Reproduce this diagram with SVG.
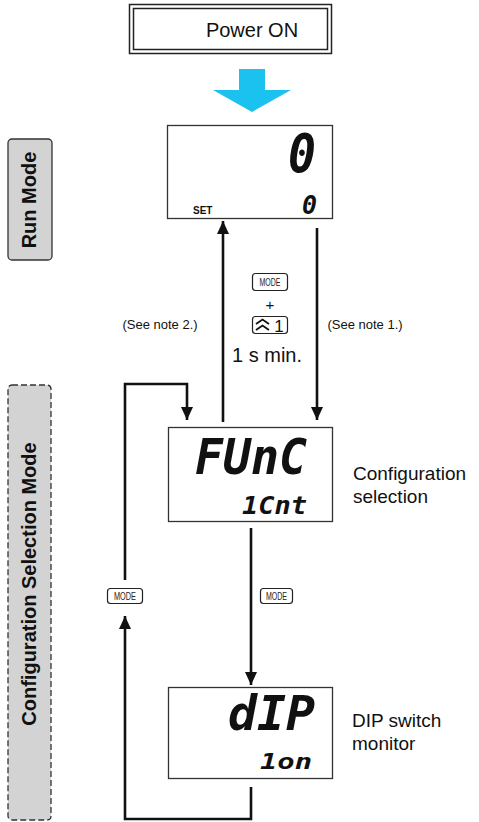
<svg xmlns="http://www.w3.org/2000/svg" width="479" height="822" viewBox="0 0 479 822">
<defs>
<style>
.lbl{font-family:"Liberation Sans",Arial,sans-serif;fill:#111}
.mode{font-family:"Liberation Sans",Arial,sans-serif;font-weight:bold;font-size:20px;fill:#111}
.disp{fill:#fff;stroke:#333;stroke-width:1.3}
.seg{font-family:"DejaVu Sans Mono",monospace;font-weight:bold;font-style:italic;fill:#111}
.btn{fill:#fff;stroke:#222;stroke-width:1.2}
.btxt{font-family:"Liberation Sans",Arial,sans-serif;font-size:10px;fill:#222}
.conn{fill:none;stroke:#111;stroke-width:2.6}
</style>
<marker id="ah" markerUnits="userSpaceOnUse" markerWidth="13" markerHeight="13" refX="13" refY="6" orient="auto">
<path d="M0,0 L13,6 L0,12 z" fill="#111"/>
</marker>
</defs>
<rect width="479" height="822" fill="#fff"/>

<g id="run-mode-label">
<rect x="8" y="139" width="44" height="121" rx="4" fill="#d3d3d3" stroke="#333" stroke-width="1.3"/>
<text class="mode" transform="translate(36,200) rotate(-90)" text-anchor="middle">Run Mode</text>
</g>

<g id="config-mode-label">
<rect x="8" y="385" width="43" height="435" rx="4" fill="#d3d3d3" stroke="#333" stroke-width="1.3" stroke-dasharray="6,3"/>
<text class="mode" transform="translate(36,584) rotate(-90)" text-anchor="middle">Configuration Selection Mode</text>
</g>

<g id="power-on">
<rect x="129.5" y="4.5" width="202" height="49" fill="#fff" stroke="#222" stroke-width="1.5"/>
<rect x="133.5" y="8.5" width="194" height="41" fill="none" stroke="#222" stroke-width="1.5"/>
<text class="lbl" x="252" y="37" font-size="20" text-anchor="middle">Power ON</text>
</g>

<g id="power-arrow">
<polygon points="239,69 265,69 265,90 291,90 252,112 213,90 239,90" fill="#1bc1ef"/>
</g>

<g id="run-display">
<rect class="disp" x="167.5" y="125.5" width="165" height="93"/>
<text class="seg" x="288" y="172" font-size="54" textLength="28" lengthAdjust="spacingAndGlyphs">0</text>
<text class="seg" x="302" y="214" font-size="26" textLength="15" lengthAdjust="spacingAndGlyphs">0</text>
<text class="lbl" x="193" y="214" font-size="10" font-weight="bold">SET</text>
</g>

<g id="config-display">
<rect class="disp" x="168.5" y="427.5" width="164" height="94"/>
<text class="seg" x="195" y="474" font-size="50" textLength="112" lengthAdjust="spacingAndGlyphs">FUnC</text>
<text class="seg" x="242" y="514" font-size="24" textLength="65" lengthAdjust="spacingAndGlyphs">1Cnt</text>
<text class="lbl" x="353" y="480" font-size="19">Configuration</text>
<text class="lbl" x="353" y="503" font-size="19">selection</text>
</g>

<g id="dip-display">
<rect class="disp" x="168.5" y="687.5" width="164" height="91"/>
<text class="seg" x="228" y="730" font-size="48" textLength="87" lengthAdjust="spacingAndGlyphs">dIP</text>
<text class="seg" x="260" y="769" font-size="22" textLength="52" lengthAdjust="spacingAndGlyphs">1on</text>
<text class="lbl" x="352" y="727" font-size="19">DIP switch</text>
<text class="lbl" x="352" y="750" font-size="19">monitor</text>
</g>

<g id="connectors">
<path class="conn" d="M223,422 V221" marker-end="url(#ah)"/>
<path class="conn" d="M317,228 V420" marker-end="url(#ah)"/>
<path class="conn" d="M125,580 V384 H187 V420" marker-end="url(#ah)"/>
<path class="conn" d="M251,528 V685" marker-end="url(#ah)"/>
<path class="conn" d="M251,787 V819 H125 V616" marker-end="url(#ah)"/>
</g>

<g id="key-mode-up">
<rect class="btn" x="252.5" y="273.5" width="35" height="17" rx="3"/>
<text class="btxt" x="270" y="286" text-anchor="middle" textLength="21" lengthAdjust="spacingAndGlyphs">MODE</text>
</g>
<text class="lbl" x="270" y="310" font-size="15" text-anchor="middle">+</text>
<g id="key-up1">
<rect class="btn" x="252.5" y="316.5" width="35" height="17" rx="3"/>
<polyline points="256,324 262.5,319.5 269,324" fill="none" stroke="#111" stroke-width="1.8"/>
<polyline points="256,330 262.5,325.5 269,330" fill="none" stroke="#111" stroke-width="1.8"/>
<text class="lbl" x="279" y="332" font-size="17" text-anchor="middle">1</text>
</g>
<text class="lbl" x="267" y="362" font-size="20" text-anchor="middle">1 s min.</text>
<text class="lbl" x="160" y="329" font-size="13" text-anchor="middle">(See note 2.)</text>
<text class="lbl" x="365" y="329" font-size="13" text-anchor="middle">(See note 1.)</text>

<g id="key-mode-left">
<rect class="btn" x="107.5" y="588.5" width="35" height="15" rx="3"/>
<text class="btxt" x="125" y="600" text-anchor="middle" textLength="22" lengthAdjust="spacingAndGlyphs">MODE</text>
</g>
<g id="key-mode-mid">
<rect class="btn" x="260.5" y="588.5" width="32" height="15" rx="3"/>
<text class="btxt" x="276.5" y="600" text-anchor="middle" textLength="21" lengthAdjust="spacingAndGlyphs">MODE</text>
</g>
</svg>
